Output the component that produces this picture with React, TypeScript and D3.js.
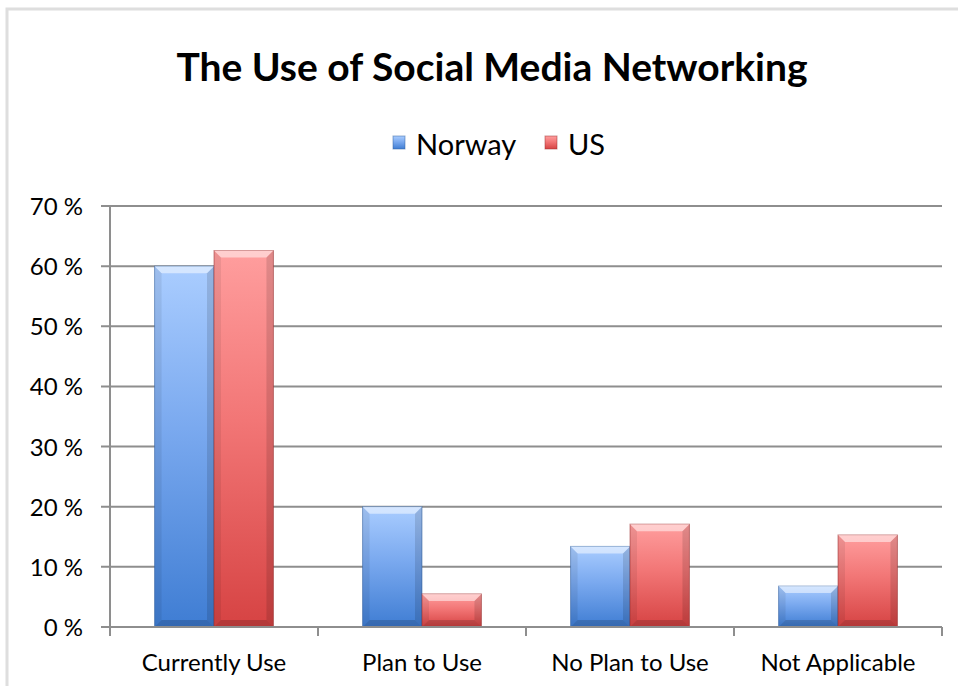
import React from 'react';
import * as d3 from 'd3';

const categories = ['Currently Use', 'Plan to Use', 'No Plan to Use', 'Not Applicable'];
const seriesNames = ['Norway', 'US'];
const norwayValues = [60, 20, 13.4, 6.8];
const usValues = [62.6, 5.5, 17.1, 15.3];
const yTicks = [0, 10, 20, 30, 40, 50, 60, 70];

const W = 958;
const H = 686;
const margin = { left: 110, right: 16, top: 206, bottom: 59 };
const FONT = 'Lato, "Open Sans", sans-serif';

const palette: Record<string, { light: string; mid: string; dark: string; edge: string }> = {
  Norway: { light: '#aacdff', mid: '#7aa9ef', dark: '#3f7dd3', edge: '#2f5f9f' },
  US: { light: '#ff9e9e', mid: '#f27676', dark: '#d64343', edge: '#9c2f2f' },
};

const Bar: React.FC<{ x: number; y: number; w: number; h: number; name: string }> = ({ x, y, w, h, name }) => {
  const b = Math.min(7, h / 2);
  const c = palette[name];
  return (
    <g transform={`translate(${x},${y})`}>
      <rect width={w} height={h} fill={`url(#grad-${name})`} stroke={c.edge} strokeOpacity={0.55} strokeWidth={1} />
      {/* bevel facets */}
      <polygon points={`0,0 ${w},0 ${w - b},${b} ${b},${b}`} fill="#fff" opacity={0.5} />
      <polygon points={`0,0 ${b},${b} ${b},${h - b} 0,${h}`} fill="#000" opacity={0.07} />
      <polygon points={`${w},0 ${w - b},${b} ${w - b},${h - b} ${w},${h}`} fill="#000" opacity={0.12} />
      <polygon points={`0,${h} ${b},${h - b} ${w - b},${h - b} ${w},${h}`} fill="#000" opacity={0.16} />
    </g>
  );
};

const App: React.FC = () => {
  const x0 = d3.scaleBand<string>().domain(categories).range([margin.left, W - margin.right]).paddingInner(0).paddingOuter(0);
  const x1 = d3.scaleBand<string>().domain(seriesNames).range([0, x0.bandwidth()]).paddingInner(0).paddingOuter(0.75);
  const y = d3.scaleLinear().domain([0, 70]).range([H - margin.bottom, margin.top]);

  const valuesBySeries: Record<string, number[]> = { Norway: norwayValues, US: usValues };
  const [x0L, x0R] = x0.range();
  const gridColor = '#8e8e8e';

  return (
    <svg width={W} height={H} style={{ position: 'absolute', left: 0, top: 0, background: '#fff' }}>
      <defs>
        {seriesNames.map((s) => (
          <linearGradient key={s} id={`grad-${s}`} x1="0" y1="0" x2="0" y2="1">
            <stop offset="0%" stopColor={palette[s].light} />
            <stop offset="45%" stopColor={palette[s].mid} />
            <stop offset="100%" stopColor={palette[s].dark} />
          </linearGradient>
        ))}
      </defs>

      {/* outer frame */}
      <rect x={7} y={9} width={W + 10} height={H + 10} fill="none" stroke="#dedede" strokeWidth={3} />

      <text x={492} y={81} textAnchor="middle" fontFamily={FONT} fontWeight="bold" fontSize={39} fill="#000">
        The Use of Social Media Networking
      </text>

      {/* legend */}
      <g fontFamily={FONT} fontSize={29} fill="#000">
        <rect x={393} y={136} width={12} height={13} fill="url(#grad-Norway)" stroke="#2f5f9f" strokeOpacity={0.5} />
        <text x={416} y={155}>Norway</text>
        <rect x={545} y={136} width={12} height={13} fill="url(#grad-US)" stroke="#9c2f2f" strokeOpacity={0.5} />
        <text x={568} y={155}>US</text>
      </g>

      {/* grid + y axis */}
      {yTicks.map((t) => (
        <g key={t}>
          <line x1={x0L - 9} x2={x0R} y1={y(t)} y2={y(t)} stroke={gridColor} strokeWidth={2} />
          <text x={83} y={y(t) + 9} textAnchor="end" fontFamily={FONT} fontSize={24} fill="#000">
            {t} %
          </text>
        </g>
      ))}
      <line x1={x0L} x2={x0L} y1={y(70)} y2={y(0) + 8} stroke={gridColor} strokeWidth={2} />

      {/* bars */}
      {categories.map((cat, i) => (
        <g key={cat}>
          {seriesNames.map((s) => {
            const v = valuesBySeries[s][i];
            return <Bar key={s} name={s} x={(x0(cat) as number) + (x1(s) as number)} y={y(v)} w={x1.bandwidth()} h={y(0) - y(v)} />;
          })}
        </g>
      ))}

      {/* x axis */}
      <line x1={x0L} x2={x0R} y1={y(0)} y2={y(0)} stroke={gridColor} strokeWidth={2} />
      {[...categories.map((c) => x0(c) as number), x0R].map((tx, i) => (
        <line key={i} x1={tx} x2={tx} y1={y(0)} y2={y(0) + 9} stroke={gridColor} strokeWidth={2} />
      ))}
      {categories.map((cat) => (
        <text key={cat} x={(x0(cat) as number) + x0.bandwidth() / 2} y={671} textAnchor="middle" fontFamily={FONT} fontSize={24} fill="#000">
          {cat}
        </text>
      ))}
    </svg>
  );
};

export default App;
